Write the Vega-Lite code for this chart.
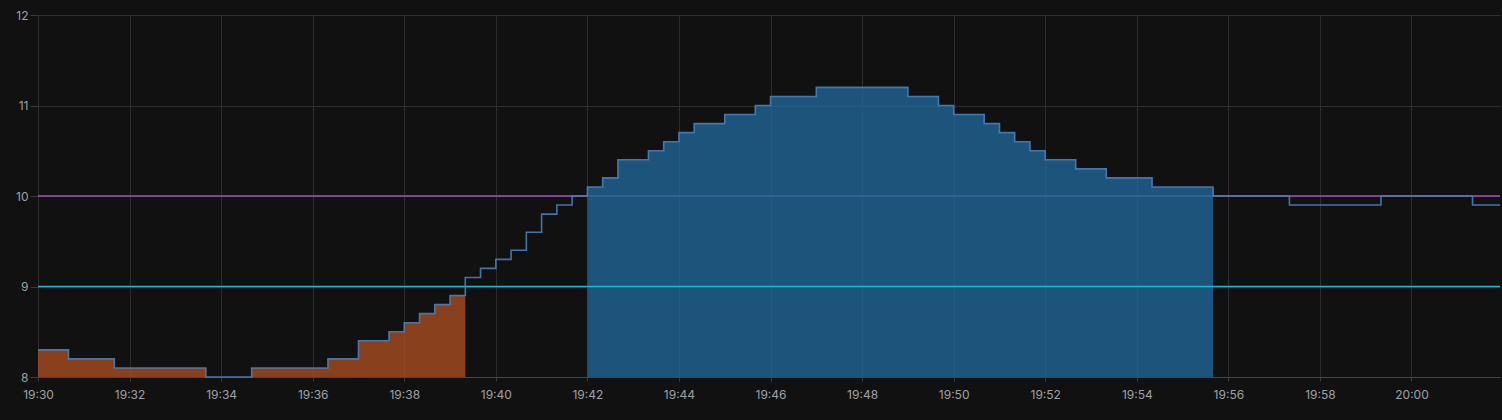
{
  "$schema": "https://vega.github.io/schema/vega-lite/v6.json",
  "width": 1462,
  "height": 362,
  "autosize": "none",
  "padding": {"left": 38, "top": 15, "right": 2, "bottom": 43},
  "background": "#111111",
  "config": {
    "view": {"stroke": null},
    "axis": {
      "labelColor": "#9fa1a5",
      "labelFont": "Inter",
      "labelFontSize": 12,
      "gridColor": "#2e2e2e",
      "tickColor": "#3a3a3a",
      "domainColor": "#444444",
      "title": null
    }
  },
  "data": {
    "values": [
      {"s": "line", "t": "2024-01-01T19:30:00Z", "v": 8.3},
      {"s": "line", "t": "2024-01-01T19:30:40Z", "v": 8.2},
      {"s": "line", "t": "2024-01-01T19:31:40Z", "v": 8.1},
      {"s": "line", "t": "2024-01-01T19:33:40Z", "v": 8.0},
      {"s": "line", "t": "2024-01-01T19:34:40Z", "v": 8.1},
      {"s": "line", "t": "2024-01-01T19:36:20Z", "v": 8.2},
      {"s": "line", "t": "2024-01-01T19:37:00Z", "v": 8.4},
      {"s": "line", "t": "2024-01-01T19:37:40Z", "v": 8.5},
      {"s": "line", "t": "2024-01-01T19:38:00Z", "v": 8.6},
      {"s": "line", "t": "2024-01-01T19:38:20Z", "v": 8.7},
      {"s": "line", "t": "2024-01-01T19:38:40Z", "v": 8.8},
      {"s": "line", "t": "2024-01-01T19:39:00Z", "v": 8.9},
      {"s": "line", "t": "2024-01-01T19:39:20Z", "v": 9.1},
      {"s": "line", "t": "2024-01-01T19:39:40Z", "v": 9.2},
      {"s": "line", "t": "2024-01-01T19:40:00Z", "v": 9.3},
      {"s": "line", "t": "2024-01-01T19:40:20Z", "v": 9.4},
      {"s": "line", "t": "2024-01-01T19:40:40Z", "v": 9.6},
      {"s": "line", "t": "2024-01-01T19:41:00Z", "v": 9.8},
      {"s": "line", "t": "2024-01-01T19:41:20Z", "v": 9.9},
      {"s": "line", "t": "2024-01-01T19:41:40Z", "v": 10.0},
      {"s": "line", "t": "2024-01-01T19:42:00Z", "v": 10.1},
      {"s": "line", "t": "2024-01-01T19:42:20Z", "v": 10.2},
      {"s": "line", "t": "2024-01-01T19:42:40Z", "v": 10.4},
      {"s": "line", "t": "2024-01-01T19:43:20Z", "v": 10.5},
      {"s": "line", "t": "2024-01-01T19:43:40Z", "v": 10.6},
      {"s": "line", "t": "2024-01-01T19:44:00Z", "v": 10.7},
      {"s": "line", "t": "2024-01-01T19:44:20Z", "v": 10.8},
      {"s": "line", "t": "2024-01-01T19:45:00Z", "v": 10.9},
      {"s": "line", "t": "2024-01-01T19:45:40Z", "v": 11.0},
      {"s": "line", "t": "2024-01-01T19:46:00Z", "v": 11.1},
      {"s": "line", "t": "2024-01-01T19:47:00Z", "v": 11.2},
      {"s": "line", "t": "2024-01-01T19:49:00Z", "v": 11.1},
      {"s": "line", "t": "2024-01-01T19:49:40Z", "v": 11.0},
      {"s": "line", "t": "2024-01-01T19:50:00Z", "v": 10.9},
      {"s": "line", "t": "2024-01-01T19:50:40Z", "v": 10.8},
      {"s": "line", "t": "2024-01-01T19:51:00Z", "v": 10.7},
      {"s": "line", "t": "2024-01-01T19:51:20Z", "v": 10.6},
      {"s": "line", "t": "2024-01-01T19:51:40Z", "v": 10.5},
      {"s": "line", "t": "2024-01-01T19:52:00Z", "v": 10.4},
      {"s": "line", "t": "2024-01-01T19:52:40Z", "v": 10.3},
      {"s": "line", "t": "2024-01-01T19:53:20Z", "v": 10.2},
      {"s": "line", "t": "2024-01-01T19:54:20Z", "v": 10.1},
      {"s": "line", "t": "2024-01-01T19:55:40Z", "v": 10.0},
      {"s": "line", "t": "2024-01-01T19:57:20Z", "v": 9.9},
      {"s": "line", "t": "2024-01-01T19:59:20Z", "v": 10.0},
      {"s": "line", "t": "2024-01-01T20:01:20Z", "v": 9.9},
      {"s": "line", "t": "2024-01-01T20:01:56Z", "v": 9.9},
      {"s": "low", "t": "2024-01-01T19:30:00Z", "v": 8.3},
      {"s": "low", "t": "2024-01-01T19:30:40Z", "v": 8.2},
      {"s": "low", "t": "2024-01-01T19:31:40Z", "v": 8.1},
      {"s": "low", "t": "2024-01-01T19:33:40Z", "v": 8.0},
      {"s": "low", "t": "2024-01-01T19:34:40Z", "v": 8.1},
      {"s": "low", "t": "2024-01-01T19:36:20Z", "v": 8.2},
      {"s": "low", "t": "2024-01-01T19:37:00Z", "v": 8.4},
      {"s": "low", "t": "2024-01-01T19:37:40Z", "v": 8.5},
      {"s": "low", "t": "2024-01-01T19:38:00Z", "v": 8.6},
      {"s": "low", "t": "2024-01-01T19:38:20Z", "v": 8.7},
      {"s": "low", "t": "2024-01-01T19:38:40Z", "v": 8.8},
      {"s": "low", "t": "2024-01-01T19:39:00Z", "v": 8.9},
      {"s": "low", "t": "2024-01-01T19:39:20Z", "v": 8.9},
      {"s": "high", "t": "2024-01-01T19:42:00Z", "v": 10.1},
      {"s": "high", "t": "2024-01-01T19:42:20Z", "v": 10.2},
      {"s": "high", "t": "2024-01-01T19:42:40Z", "v": 10.4},
      {"s": "high", "t": "2024-01-01T19:43:20Z", "v": 10.5},
      {"s": "high", "t": "2024-01-01T19:43:40Z", "v": 10.6},
      {"s": "high", "t": "2024-01-01T19:44:00Z", "v": 10.7},
      {"s": "high", "t": "2024-01-01T19:44:20Z", "v": 10.8},
      {"s": "high", "t": "2024-01-01T19:45:00Z", "v": 10.9},
      {"s": "high", "t": "2024-01-01T19:45:40Z", "v": 11.0},
      {"s": "high", "t": "2024-01-01T19:46:00Z", "v": 11.1},
      {"s": "high", "t": "2024-01-01T19:47:00Z", "v": 11.2},
      {"s": "high", "t": "2024-01-01T19:49:00Z", "v": 11.1},
      {"s": "high", "t": "2024-01-01T19:49:40Z", "v": 11.0},
      {"s": "high", "t": "2024-01-01T19:50:00Z", "v": 10.9},
      {"s": "high", "t": "2024-01-01T19:50:40Z", "v": 10.8},
      {"s": "high", "t": "2024-01-01T19:51:00Z", "v": 10.7},
      {"s": "high", "t": "2024-01-01T19:51:20Z", "v": 10.6},
      {"s": "high", "t": "2024-01-01T19:51:40Z", "v": 10.5},
      {"s": "high", "t": "2024-01-01T19:52:00Z", "v": 10.4},
      {"s": "high", "t": "2024-01-01T19:52:40Z", "v": 10.3},
      {"s": "high", "t": "2024-01-01T19:53:20Z", "v": 10.2},
      {"s": "high", "t": "2024-01-01T19:54:20Z", "v": 10.1},
      {"s": "high", "t": "2024-01-01T19:55:40Z", "v": 10.1},
      {"s": "min", "v": 9},
      {"s": "target", "v": 10}
    ]
  },
  "layer": [
    {
      "transform": [{"filter": "datum.s == 'target'"}],
      "mark": {"type": "rule", "strokeWidth": 1.5, "color": "#a352b4"},
      "encoding": {
        "y": {
          "field": "v",
          "type": "quantitative",
          "scale": {"domain": [8, 12], "zero": false},
          "axis": {"values": [8, 9, 10, 11, 12], "format": "d", "tickSize": 8, "labelPadding": 2, "domain": false, "labelFlush": false}
        }
      }
    },
    {
      "transform": [{"filter": "datum.s == 'low' || datum.s == 'high'"}],
      "mark": {"type": "area", "interpolate": "step-after", "opacity": 0.8},
      "encoding": {
        "x": {
          "field": "t",
          "type": "temporal",
          "scale": {"type": "utc"},
          "axis": {
            "labelExpr": "utcFormat(datum.value, '%H:%M')",
            "values": [1704137400000, 1704137520000, 1704137640000, 1704137760000, 1704137880000, 1704138000000, 1704138120000, 1704138240000, 1704138360000, 1704138480000, 1704138600000, 1704138720000, 1704138840000, 1704138960000, 1704139080000, 1704139200000],
            "tickSize": 4,
            "labelPadding": 8,
            "labelFlush": false
          }
        },
        "y": {"field": "v", "type": "quantitative", "stack": null},
        "y2": {"datum": 8},
        "color": {
          "field": "s",
          "type": "nominal",
          "scale": {"domain": ["low", "high"], "range": ["#a84e21", "#1f6596"]},
          "legend": null
        }
      }
    },
    {
      "transform": [{"filter": "datum.s == 'min'"}],
      "mark": {"type": "rule", "strokeWidth": 1.5, "color": "#1bb8cf"},
      "encoding": {
        "y": {"field": "v", "type": "quantitative"}
      }
    },
    {
      "transform": [{"filter": "datum.s == 'line'"}],
      "mark": {"type": "line", "interpolate": "step-after", "color": "#4a80b8", "strokeWidth": 1.6, "opacity": 0.9},
      "encoding": {
        "x": {"field": "t", "type": "temporal"},
        "y": {"field": "v", "type": "quantitative"}
      }
    }
  ]
}
